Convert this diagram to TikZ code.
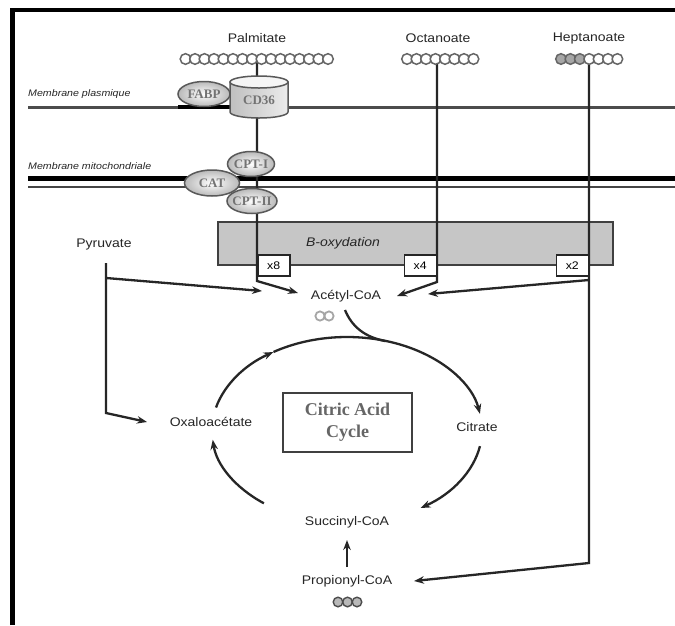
\documentclass[tikz,border=0pt]{standalone}
\usepackage{fontspec}
\setmainfont{Liberation Sans}
\newfontfamily\lab[FakeStretch=1.12]{Liberation Sans}
\newfontfamily\ser{Liberation Serif}
\usetikzlibrary{arrows.meta,shapes.geometric}
\pgfdeclarelayer{back}
\pgfdeclarelayer{mid}
\pgfsetlayers{back,mid,main}
\begin{document}
\begin{tikzpicture}[x=1pt,y=-1pt,
  lab/.style={font=\lab\fontsize{12.5}{14}\selectfont, text=black!85, inner sep=1pt},
  memb/.style={font=\lab\itshape\fontsize{9.5}{11}\selectfont, text=black!85, anchor=west, inner sep=0pt},
  prot/.style={ellipse, draw=black!65, line width=1.5pt, inner color=white, outer color=gray!55, inner sep=0pt, font=\ser\bfseries\fontsize{13}{14}\selectfont, text=black!55},
  xbox/.style={draw=black!85, line width=1.5pt, fill=white, minimum width=32pt, minimum height=21pt, inner sep=0pt, font=\lab\fontsize{11}{12}\selectfont},
  line/.style={draw=black!85, line width=2.3pt},
  arr/.style={line, -{Stealth[length=10pt,width=7.5pt]}},
  chain/.style={draw=black!60, line width=1.5pt, fill=white},
]
\useasboundingbox (0,0) rectangle (675,625);
\begin{pgfonlayer}{back}
\fill[white] (0,0) rectangle (675,625);
\end{pgfonlayer}

% frame
\draw[line width=4.5pt] (12.5,625) -- (12.5,10) -- (675,10);

% substrate labels
\node[lab] (palmitate) at (257,38) {Palmitate};
\node[lab] (octanoate) at (438,38) {Octanoate};
\node[lab] (heptanoate) at (589,38) {Heptanoate};
\coordinate (palm) at (257,59);
\coordinate (oct) at (437,59);
\coordinate (hep) at (589,59);

% carbon chains
\foreach \i in {0,...,15} \draw[chain] (185.5+9.5*\i,59) circle[radius=5.3];
\foreach \i in {0,...,7} \draw[chain] (407+9.5*\i,59) circle[radius=5.3];
\foreach \i/\f in {0/gray!70,1/gray!70,2/gray!70,3/white,4/white,5/white,6/white}
  \draw[chain, fill=\f] (561+9.4*\i,59) circle[radius=5.3];

% membranes and beta-oxidation box
\begin{pgfonlayer}{back}
\draw[draw=gray!60!black, line width=3pt] (28,107) -- (675,107);
\draw[line width=3.5pt] (178,107) -- (232,107);
\draw[line width=5pt] (28,178) -- (675,178);
\draw[draw=gray!55!black, line width=2.5pt] (28,187) -- (675,187);
\node[draw=black!75, line width=1.5pt, fill=gray!45, minimum width=395pt, minimum height=43pt, anchor=north west, inner sep=0pt] (boxy) at (217,221) {};
\end{pgfonlayer}
\node[memb] (mplas) at (28,94) {Membrane plasmique};
\node[memb] (mmito) at (28,166) {Membrane mitochondriale};

% proteins
\node[prot, minimum width=52pt, minimum height=25pt] (fabp) at (204,94) {\makebox[0pt]{FABP}};
\path[left color=gray!50, right color=gray!15, draw=black!65, line width=1.5pt]
  (230,82) -- (230,112) arc[start angle=180, end angle=0, x radius=29, y radius=6] -- (288,82) -- cycle;
\draw[fill=gray!8, draw=black!65, line width=1.5pt] (259,82) ellipse[x radius=29, y radius=6];
\node[font=\ser\bfseries\fontsize{13}{14}\selectfont, text=black!55] (cd36) at (259,100) {CD36};
\node[prot, minimum width=47pt, minimum height=25pt] (cpt1) at (251,164) {\makebox[0pt]{CPT-I}};
\node[prot, minimum width=50pt, minimum height=25pt] (cpt2) at (252,201) {\makebox[0pt]{CPT-II}};
\node[prot, minimum width=55pt, minimum height=26pt] (cat) at (212,183) {\makebox[0pt]{CAT}};

% beta-oxidation
\node[font=\lab\itshape\fontsize{12.5}{14}\selectfont, text=black!85] (boxtxt) at (343,243) {B-oxydation};
\node[xbox, anchor=north west] (x8) at (257,254) {x8};
\node[xbox, anchor=north east] (x4) at (437,254) {x4};
\node[xbox, anchor=north east] (x2) at (589,254) {x2};

% metabolites
\node[lab] (pyruvate) at (104,244) {Pyruvate};
\node[lab] (acetyl) at (346,296) {Acétyl-CoA};
\draw[draw=gray!70, line width=1.8pt] (320,316) circle[radius=4.6] (329,316) circle[radius=4.6];
\node[lab] (oxalo) at (211,422) {Oxaloacétate};
\node[lab] (citrate) at (477,427) {Citrate};
\node[lab] (succinyl) at (347,522) {Succinyl-CoA};
\node[lab] (propionyl) at (347,581) {Propionyl-CoA};
\foreach \i in {0,1,2} \draw[draw=black!70, fill=gray!55, line width=1.4pt] (338+9.5*\i,602) circle[radius=4.8];
\node[draw=black!75, line width=1.8pt, minimum width=129pt, minimum height=59pt, inner sep=0pt, align=center, font=\ser\bfseries\fontsize{18}{22}\selectfont, text=black!60] (tca) at (347.5,422.5) {Citric Acid\\Cycle};

% connector points
\coordinate (c8) at (257,281);
\coordinate (t8) at (298,293);
\coordinate (c4) at (437,282);
\coordinate (t4) at (397,296);
\coordinate (c2a) at (589,280);
\coordinate (t2) at (428,294);
\coordinate (c2b) at (589,563);
\coordinate (tprop) at (414,581);
\coordinate (pyrtop) at (106,263);
\coordinate (pyrh) at (106,278);
\coordinate (pyrc) at (106,413);
\coordinate (toxa) at (147,422);
\coordinate (tpa) at (262,291);
\coordinate (propup) at (347,567);
\coordinate (succdown) at (347,540);

\begin{pgfonlayer}{mid}
\draw[arr] (palm) -- (c8) -- (t8);
\draw[arr] (oct) -- (c4) -- (t4);
\draw[arr] (hep) -- (c2b) -- (tprop);
\draw[arr] (c2a) -- (t2);
\draw[arr] (pyrtop) -- (pyrc) -- (toxa);
\draw[arr] (pyrh) -- (tpa);
\end{pgfonlayer}
\draw[arr] (propup) -- (succdown);

% citric acid cycle arcs
\draw[arr] (347,430) ++(-166:135 and 93) arc[start angle=-166, end angle=-123, x radius=135, y radius=93];
\draw[arr] (347,430) ++(-123:135 and 93) arc[start angle=-123, end angle=-10, x radius=135, y radius=93];
\draw[arr] (347,430) ++(10:135 and 93) arc[start angle=10, end angle=57, x radius=135, y radius=93];
\draw[arr] (347,430) ++(128:135 and 93) arc[start angle=128, end angle=174, x radius=135, y radius=93];
\draw[line] (345,310) .. controls (352,327) and (365,337) .. (385,341);
\end{tikzpicture}
\end{document}
